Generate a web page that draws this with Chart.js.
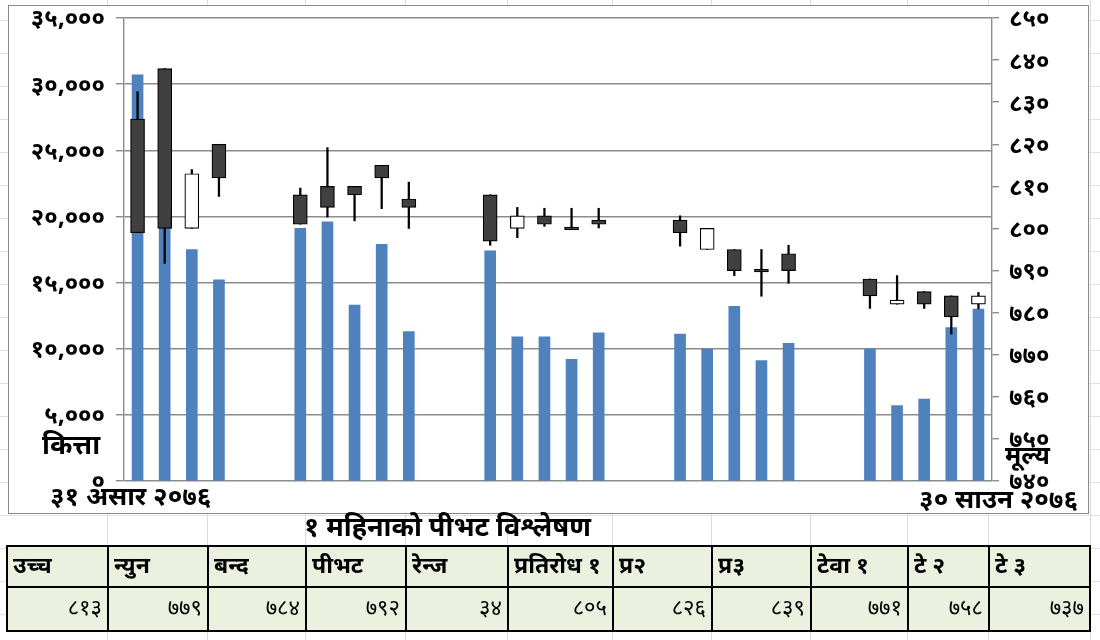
<!DOCTYPE html>
<html>
<head>
<meta charset="utf-8">
<script src="https://cdn.jsdelivr.net/npm/chart.js@4.4.1/dist/chart.umd.min.js"></script>
<style>
  html, body { margin:0; padding:0; }
  body {
    width:1100px; height:640px; overflow:hidden; position:relative; background:#fff;
    font-family: "Noto Sans Devanagari", "Lohit Devanagari", "Mangal", "Noto Sans", sans-serif;
  }
  #sheet { position:absolute; left:0; top:0; width:1100px; height:640px; }
  .vl { position:absolute; top:0; width:1px; height:640px; background:#dadada; }
  .hl { position:absolute; left:0; height:1px; width:1100px; background:#e2e2e2; }
  #chartBox {
    position:absolute; left:8px; top:5px; width:1081px; height:509px;
    background:#fff; border:1px solid #8a8a8a; box-sizing:border-box;
  }
  #chartBox canvas { position:absolute; left:0; top:0; }
  .lbl { position:absolute; font-weight:bold; color:#000; white-space:nowrap; line-height:1; }
  #title { position:absolute; left:304px; top:514px; font-size:27px; font-weight:bold; white-space:nowrap; line-height:1.2; }
  #tbl { position:absolute; left:6px; top:545px; border-collapse:collapse; table-layout:fixed; }
  #tbl td { border:2px solid #000; background:#ebf1de; padding:0 5px; font-size:22px; overflow:hidden; white-space:nowrap; }
  #tbl tr.h td { height:39px; font-weight:bold; text-align:left; font-size:23px; }
  #tbl tr.v td { height:42px; text-align:right; }
</style>
</head>
<body>
<div id="sheet"></div>
<div id="chartBox">
  <canvas id="c" width="1079" height="507"></canvas>
  <div class="lbl" style="left:33px; top:428px; font-size:27px;">कित्ता</div>
  <div class="lbl" style="left:996px; top:440px; font-size:25px;">मूल्य</div>
  <div class="lbl" style="left:41px; top:480px; font-size:26px;">३१ असार २०७६</div>
  <div class="lbl" style="right:10px; top:483px; font-size:26px;">३० साउन २०७६</div>
</div>
<div id="title">१ महिनाको पीभट विश्लेषण</div>
<table id="tbl"></table>

<script>
// ---------------- data ----------------
const dates = ['३१ असार','३२ असार','१ साउन','२ साउन','३ साउन','४ साउन','५ साउन','६ साउन','७ साउन','८ साउन',
  '९ साउन','१० साउन','११ साउन','१२ साउन','१३ साउन','१४ साउन','१५ साउन','१६ साउन','१७ साउन','१८ साउन',
  '१९ साउन','२० साउन','२१ साउन','२२ साउन','२३ साउन','२४ साउन','२५ साउन','२६ साउन','२७ साउन','२८ साउन',
  '२९ साउन','३० साउन'];
const volume = [30700, 21000, 17500, 15200, null, null, 19100, 19600, 13300, 17900, 11300, null, null,
  17400, 10900, 10900, 9200, 11200, null, null, 11100, 10000, 13200, 9100, 10400, null, null,
  10000, 5700, 6200, 11600, 13000];
const openP  = [826, 838, 800, 820, null, null, 808, 810, 810, 815, 807, null, null,
  808, 800, 803, 800.3, 802, null, null, 802, 795, 795, 790.3, 794, null, null,
  788, 782, 785, 784, 782];
const closeP = [799, 800, 813, 812, null, null, 801, 805, 808, 812, 805, null, null,
  797, 803, 801, 799.7, 801, null, null, 799, 800, 790, 789.7, 790, null, null,
  784, 783, 782, 779, 784];
const highP  = [832.5, 838, 814, 820, null, null, 809.6, 819.2, 810, 815, 811, null, null,
  808, 805, 804.8, 804.8, 804.8, null, null, 803, 800, 795, 795, 796, null, null,
  788, 788.8, 785, 784, 784.8];
const lowP   = [799, 791.7, 800, 807.6, null, null, 801, 802.7, 801.8, 804.7, 800, null, null,
  796, 797.8, 800.5, 799.7, 800.1, null, null, 795.8, 795, 788.8, 783.9, 787, null, null,
  781, 782, 781, 774.9, 780.9];
const volTicks = {min:0, max:35000, step:5000};
const priceTicks = {min:740, max:850, step:10};
const tableHeads = ['उच्च','न्युन','बन्द','पीभट','रेन्ज','प्रतिरोध १','प्र२','प्र३','टेवा १','टे २','टे ३'];
const tableVals  = [813, 779, 784, 792, 34, 805, 826, 839, 771, 758, 737];

// ---------------- helpers ----------------
const devDigits = '०१२३४५६७८९';
function toDev(s) { return String(s).replace(/[0-9]/g, d => devDigits[+d]); }

// sheet gridlines
const sheet = document.getElementById('sheet');
[107,207,305,405,507,612,711,810,907,988,1090].forEach(x => {
  const d = document.createElement('div'); d.className='vl'; d.style.left = x+'px'; sheet.appendChild(d);
});
for (let y = 20; y < 640; y += 33) {
  const d = document.createElement('div'); d.className='hl'; d.style.top = y+'px'; sheet.appendChild(d);
}

// table
const colW = [101,100,98,100,102,105,99,99,97,81,101];
const tbl = document.getElementById('tbl');
const cg = document.createElement('colgroup');
colW.forEach(w => { const c = document.createElement('col'); c.style.width = w+'px'; cg.appendChild(c); });
tbl.appendChild(cg);
const trH = document.createElement('tr'); trH.className='h';
tableHeads.forEach(h => { const td = document.createElement('td'); td.textContent = h; trH.appendChild(td); });
const trV = document.createElement('tr'); trV.className='v';
tableVals.forEach(v => { const td = document.createElement('td'); td.textContent = toDev(v); trV.appendChild(td); });
tbl.appendChild(trH); tbl.appendChild(trV);

// ---------------- chart ----------------
const bodyData = openP.map((o,i) => (o == null ? null : [o, closeP[i]]));
const wickData = highP.map((h,i) => (h == null ? null : [lowP[i], h]));
const isUp = i => closeP[i] >= openP[i];

const tickFont = { family: '"Noto Sans Devanagari", "Lohit Devanagari", "Noto Sans", sans-serif', size: 24, weight: 'bold', lineHeight: 1 };

new Chart(document.getElementById('c'), {
  type: 'bar',
  data: {
    labels: dates,
    datasets: [
      { label: 'कित्ता', data: volume, yAxisID: 'y', backgroundColor: '#4f81bd',
        barThickness: 11, grouped: false, order: 3 },
      { label: 'wick', data: wickData, yAxisID: 'y1', backgroundColor: '#000',
        barThickness: 1.6, grouped: false, order: 2, borderWidth: 0 },
      { label: 'मूल्य', data: bodyData, yAxisID: 'y1',
        backgroundColor: ctx => isUp(ctx.dataIndex) ? '#ffffff' : '#404040',
        borderColor: '#000', borderWidth: 1.2, borderSkipped: false,
        barThickness: 14, grouped: false, order: 1 }
    ]
  },
  options: {
    responsive: false, animation: false,
    layout: { padding: { left: 0, right: 0, top: 12, bottom: 32 } },
    plugins: { legend: { display: false }, tooltip: { enabled: false } },
    scales: {
      x: { display: false, offset: true },
      y: {
        position: 'left', min: volTicks.min, max: volTicks.max,
        afterFit: s => { s.width = 115; s.paddingTop = 0; s.paddingBottom = 0; },
        ticks: { stepSize: volTicks.step, color: '#000', font: tickFont, padding: 11, labelOffset: 4,
          callback: v => toDev(Number(v).toLocaleString('en-US')) },
        grid: { color: '#8c8c8c', lineWidth: 1.4, tickLength: 8, tickColor: '#8c8c8c' },
        border: { color: '#8c8c8c', width: 1.4 }
      },
      y1: {
        position: 'right', min: priceTicks.min, max: priceTicks.max,
        afterFit: s => { s.width = 96; s.paddingTop = 0; s.paddingBottom = 0; },
        ticks: { stepSize: priceTicks.step, color: '#000', font: tickFont, padding: 10, labelOffset: 4,
          callback: v => toDev(v) },
        grid: { drawOnChartArea: false, color: '#8c8c8c', lineWidth: 1.4, tickLength: 7 },
        border: { color: '#8c8c8c', width: 1.4 }
      }
    }
  }
});
</script>
</body>
</html>
